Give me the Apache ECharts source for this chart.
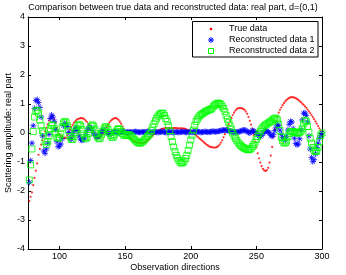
<!DOCTYPE html>
<html><head><meta charset="utf-8">
<script src="https://cdn.jsdelivr.net/npm/echarts@6/dist/echarts.min.js"></script>
<style>html,body{margin:0;padding:0;background:#fff}#c{width:346px;height:275px}</style>
</head><body><div id="c"></div>
<script>
const directions = [77,78,79,80,81,82,83,84,85,86,
87,88,89,90,91,92,93,94,95,96,
97,98,99,100,101,102,103,104,105,106,
107,108,109,110,111,112,113,114,115,116,
117,118,119,120,121,122,123,124,125,126,
127,128,129,130,131,132,133,134,135,136,
137,138,139,140,141,142,143,144,145,146,
147,148,149,150,151,152,153,154,155,156,
157,158,159,160,161,162,163,164,165,166,
167,168,169,170,171,172,173,174,175,176,
177,178,179,180,181,182,183,184,185,186,
187,188,189,190,191,192,193,194,195,196,
197,198,199,200,201,202,203,204,205,206,
207,208,209,210,211,212,213,214,215,216,
217,218,219,220,221,222,223,224,225,226,
227,228,229,230,231,232,233,234,235,236,
237,238,239,240,241,242,243,244,245,246,
247,248,249,250,251,252,253,254,255,256,
257,258,259,260,261,262,263,264,265,266,
267,268,269,270,271,272,273,274,275,276,
277,278,279,280,281,282,283,284,285,286,
287,288,289,290,291,292,293,294,295,296,
297,298,299,300];

const trueData = [-2.35,-2.2,-2.05,-1.8,-1.55,-1.3,-1.05,-0.75,-0.55,-0.4,
-0.25,-0.1,0.05,0.18,0.3,0.43,0.52,0.58,0.57,0.48,
0.35,0.18,0.05,-0.04,-0.1,-0.14,-0.17,-0.18,-0.16,-0.08,
0.02,0.11,0.2,0.28,0.35,0.4,0.45,0.48,0.5,0.51,
0.51,0.5,0.47,0.43,0.38,0.3,0.2,0.11,0.02,-0.06,
-0.13,-0.17,-0.18,-0.17,-0.15,-0.1,-0.04,0.04,0.12,0.2,
0.28,0.36,0.42,0.46,0.49,0.51,0.51,0.49,0.45,0.39,
0.32,0.23,0.14,0.05,-0.03,-0.09,-0.14,-0.18,-0.22,-0.26,
-0.29,-0.31,-0.33,-0.34,-0.35,-0.35,-0.35,-0.34,-0.32,-0.29,
-0.26,-0.22,-0.18,-0.13,-0.09,-0.04,0.0,0.04,0.07,0.1,
0.12,0.14,0.15,0.16,0.17,0.17,0.17,0.17,0.17,0.17,
0.17,0.17,0.17,0.16,0.16,0.16,0.16,0.15,0.15,0.14,
0.12,0.1,0.08,0.06,0.03,0.0,-0.04,-0.08,-0.12,-0.16,
-0.2,-0.24,-0.28,-0.32,-0.36,-0.4,-0.43,-0.46,-0.48,-0.49,
-0.5,-0.5,-0.5,-0.48,-0.45,-0.4,-0.33,-0.25,-0.15,-0.04,
0.08,0.19,0.3,0.41,0.52,0.62,0.7,0.77,0.82,0.85,
0.86,0.86,0.85,0.83,0.8,0.74,0.66,0.55,0.42,0.29,
0.15,-0.07,-0.3,-0.5,-0.7,-0.87,-1.02,-1.14,-1.24,-1.29,
-1.31,-1.28,-1.2,-1.02,-0.78,-0.48,-0.15,0.13,0.4,0.57,
0.7,0.8,0.88,0.96,1.03,1.09,1.14,1.18,1.21,1.23,
1.24,1.23,1.22,1.2,1.17,1.14,1.1,1.06,1.01,0.97,
0.92,0.87,0.81,0.75,0.69,0.62,0.55,0.48,0.4,0.32,
0.24,0.16,0.08,0.0];

const recon1 = [-1.7,-0.95,-0.35,0.25,0.85,1.12,1.15,1.05,0.88,0.55,
-0.1,-0.62,-0.7,-0.55,-0.35,-0.05,0.5,0.62,0.55,0.4,
0.12,-0.3,-0.47,-0.45,-0.38,-0.2,0.25,0.33,0.3,0.22,
0.02,-0.18,-0.22,-0.08,0.05,0.14,0.17,0.08,-0.1,-0.22,
-0.25,-0.24,-0.18,-0.05,0.08,0.17,0.2,0.18,0.1,0.0,
-0.08,-0.13,-0.14,-0.1,-0.03,0.05,0.1,0.11,0.08,0.03,
-0.02,-0.04,-0.03,0.0,0.03,0.05,0.04,0.02,0.01,0.02,
0.03,0.04,0.03,0.02,0.02,0.03,0.04,0.03,0.02,0.03,
0.04,0.05,0.04,0.03,0.02,0.03,0.04,0.03,0.03,0.04,
0.05,0.04,0.03,0.02,0.03,0.04,0.04,0.03,0.02,0.03,
0.04,0.05,0.04,0.03,0.02,0.02,0.03,0.04,0.04,0.03,
0.02,0.03,0.04,0.03,0.02,0.03,0.04,0.05,0.04,0.03,
0.02,0.03,0.04,0.03,0.02,0.03,0.04,0.05,0.05,0.04,
0.03,0.02,0.03,0.04,0.05,0.04,0.03,0.03,0.04,0.05,
0.06,0.05,0.04,0.05,0.06,0.07,0.08,0.09,0.1,0.1,
0.1,0.09,0.08,0.06,0.05,0.04,0.03,0.02,0.03,0.04,
0.05,0.06,0.08,0.1,0.1,0.08,0.05,0.02,0.0,0.04,
0.08,0.07,0.03,0.0,-0.05,-0.1,-0.12,-0.08,-0.02,0.04,
0.08,0.07,0.03,0.0,-0.08,-0.12,-0.06,0.08,0.2,0.28,
0.25,0.1,-0.05,-0.15,-0.22,-0.24,-0.12,0.1,0.3,0.4,
0.38,0.15,-0.18,-0.36,-0.41,-0.38,-0.2,0.1,0.45,0.68,
0.69,0.6,0.38,-0.1,-0.55,-0.85,-0.99,-0.92,-0.72,-0.5,
-0.35,-0.18,-0.08,0.0];

const recon2 = [-1.62,-1.1,-0.55,0.05,0.55,0.75,0.78,0.68,0.45,0.25,
0.08,0.0,-0.3,-0.4,-0.3,-0.1,0.15,0.26,0.28,0.15,
0.0,-0.15,-0.18,-0.14,-0.05,0.2,0.35,0.4,0.37,0.25,
0.08,-0.12,-0.22,-0.22,-0.12,0.02,0.15,0.26,0.3,0.25,
0.12,-0.03,-0.15,-0.2,-0.16,-0.02,0.12,0.24,0.28,0.24,
0.13,-0.02,-0.14,-0.2,-0.18,-0.06,0.06,0.16,0.22,0.2,
0.12,0.01,-0.09,-0.15,-0.14,-0.06,0.04,0.12,0.15,0.12,
0.05,-0.02,-0.07,-0.09,-0.08,-0.06,-0.06,-0.08,-0.12,-0.17,
-0.22,-0.27,-0.31,-0.34,-0.35,-0.34,-0.31,-0.27,-0.22,-0.17,
-0.12,-0.07,-0.02,0.08,0.2,0.31,0.42,0.51,0.58,0.63,
0.67,0.69,0.67,0.6,0.5,0.4,0.25,0.08,-0.12,-0.3,
-0.48,-0.64,-0.77,-0.87,-0.95,-1.01,-1.04,-1.02,-0.97,-0.88,
-0.77,-0.6,-0.42,-0.24,-0.08,0.1,0.26,0.4,0.48,0.55,
0.6,0.64,0.67,0.7,0.73,0.76,0.78,0.8,0.81,0.84,
0.9,0.95,0.99,1.02,1.03,1.02,0.98,0.92,0.85,0.74,
0.6,0.48,0.36,0.25,0.12,0.0,-0.1,-0.18,-0.25,-0.32,
-0.38,-0.43,-0.47,-0.5,-0.53,-0.55,-0.57,-0.58,-0.57,-0.53,
-0.47,-0.4,-0.32,-0.22,-0.12,-0.02,0.06,0.14,0.2,0.25,
0.28,0.31,0.34,0.37,0.4,0.44,0.48,0.51,0.51,0.45,
0.3,0.08,-0.15,-0.27,-0.33,-0.35,-0.28,-0.12,-0.02,0.04,
0.05,0.05,0.03,0.01,0.0,0.0,0.02,0.06,0.15,0.32,
0.44,0.4,0.22,0.02,-0.18,-0.35,-0.5,-0.6,-0.64,-0.63,
-0.5,-0.3,-0.08,0.0];

const xTicks = [100,150,200,250,300];
const seriesNames = ['True data','Reconstructed data 1','Reconstructed data 2'];
const titleText = 'Comparison between true data and reconstructed data: real part, d=(0,1)';
const xName = 'Observation directions';
const yName = 'Scattering amplitude: real part';

const FONT = "'Liberation Sans', Arial, Helvetica, sans-serif";
const AX = '#000';
const STAR = 'path://M5 0L5 10M0 5L10 5M1.5 1.5L8.5 8.5M1.5 8.5L8.5 1.5';

function pts(ys){ return directions.map((x,i)=>[x, ys[i]]); }

const chart = echarts.init(document.getElementById('c'), null, {renderer:'canvas'});
const axCommon = {
  axisLine:{show:true, onZero:false, lineStyle:{color:AX, width:1}},
  splitLine:{show:false}
};
chart.setOption({
  animation:false,
  backgroundColor:'#fff',
  title:{text:titleText, left:'center', top:0, padding:[3.5,0,0,3],
    textStyle:{fontFamily:FONT, fontSize:9, fontWeight:'normal', color:'#000'}},
  grid:{left:28, right:24, top:17, bottom:26, containLabel:false, outerBoundsMode:'none'},
  xAxis:[
    Object.assign({type:'value', min:76, max:300, position:'bottom',
      name:xName, nameLocation:'middle', nameGap:14, nameMoveOverlap:false,
      nameTextStyle:{fontFamily:FONT, fontSize:9, color:'#000'},
      axisTick:{show:true, inside:true, length:3, customValues:xTicks, lineStyle:{color:AX}},
      axisLabel:{customValues:xTicks, fontFamily:FONT, fontSize:9, color:'#000', margin:3}}, axCommon),
    Object.assign({type:'value', min:76, max:300, position:'top',
      axisTick:{show:true, inside:true, length:3, customValues:xTicks, lineStyle:{color:AX}},
      axisLabel:{show:false}}, axCommon)
  ],
  yAxis:[
    Object.assign({type:'value', min:-4, max:4, interval:1, position:'left',
      name:yName, nameLocation:'middle', nameGap:14.5, nameRotate:90, nameMoveOverlap:false,
      nameTextStyle:{fontFamily:FONT, fontSize:9, color:'#000'},
      axisTick:{show:true, inside:true, length:3, lineStyle:{color:AX}},
      axisLabel:{fontFamily:FONT, fontSize:9, color:'#000', margin:3}}, axCommon),
    Object.assign({type:'value', min:-4, max:4, interval:1, position:'right',
      axisTick:{show:true, inside:true, length:3, lineStyle:{color:AX}},
      axisLabel:{show:false}}, axCommon)
  ],
  series:[
    {name:seriesNames[0], type:'scatter', data:pts(trueData), symbol:'circle', symbolSize:2.2,
      itemStyle:{color:'#ff0000'}, z:2},
    {name:seriesNames[1], type:'scatter', data:pts(recon1), symbol:STAR, symbolSize:6,
      itemStyle:{color:'rgba(0,0,0,0)', borderColor:'#0000ff', borderWidth:1}, z:3},
    {name:seriesNames[2], type:'scatter', data:pts(recon2), symbol:'rect', symbolSize:6,
      itemStyle:{color:'rgba(0,0,0,0)', borderColor:'#00ff00', borderWidth:1}, z:4}
  ],
  graphic:[
    {type:'group', z:100, children:[
      {type:'rect', shape:{x:192.5, y:21.5, width:125.5, height:35.5},
        style:{fill:'#fff', stroke:'#000', lineWidth:1}},
      {type:'circle', shape:{cx:211, cy:29, r:1.3}, style:{fill:'#ff0000'}},
      {type:'line', shape:{x1:211, y1:37, x2:211, y2:43}, style:{stroke:'#0000ff', lineWidth:1}},
      {type:'line', shape:{x1:208, y1:40, x2:214, y2:40}, style:{stroke:'#0000ff', lineWidth:1}},
      {type:'line', shape:{x1:208.9, y1:37.9, x2:213.1, y2:42.1}, style:{stroke:'#0000ff', lineWidth:1}},
      {type:'line', shape:{x1:208.9, y1:42.1, x2:213.1, y2:37.9}, style:{stroke:'#0000ff', lineWidth:1}},
      {type:'rect', shape:{x:208.5, y:48.5, width:5, height:5}, style:{fill:'none', stroke:'#00ff00', lineWidth:1}},
      {type:'text', x:229, y:29, style:{text:seriesNames[0], font:'9px '+FONT, fill:'#000', verticalAlign:'middle'}},
      {type:'text', x:229, y:40, style:{text:seriesNames[1], font:'9px '+FONT, fill:'#000', verticalAlign:'middle'}},
      {type:'text', x:229, y:51, style:{text:seriesNames[2], font:'9px '+FONT, fill:'#000', verticalAlign:'middle'}}
    ]}
  ]
});
</script>
</body></html>
